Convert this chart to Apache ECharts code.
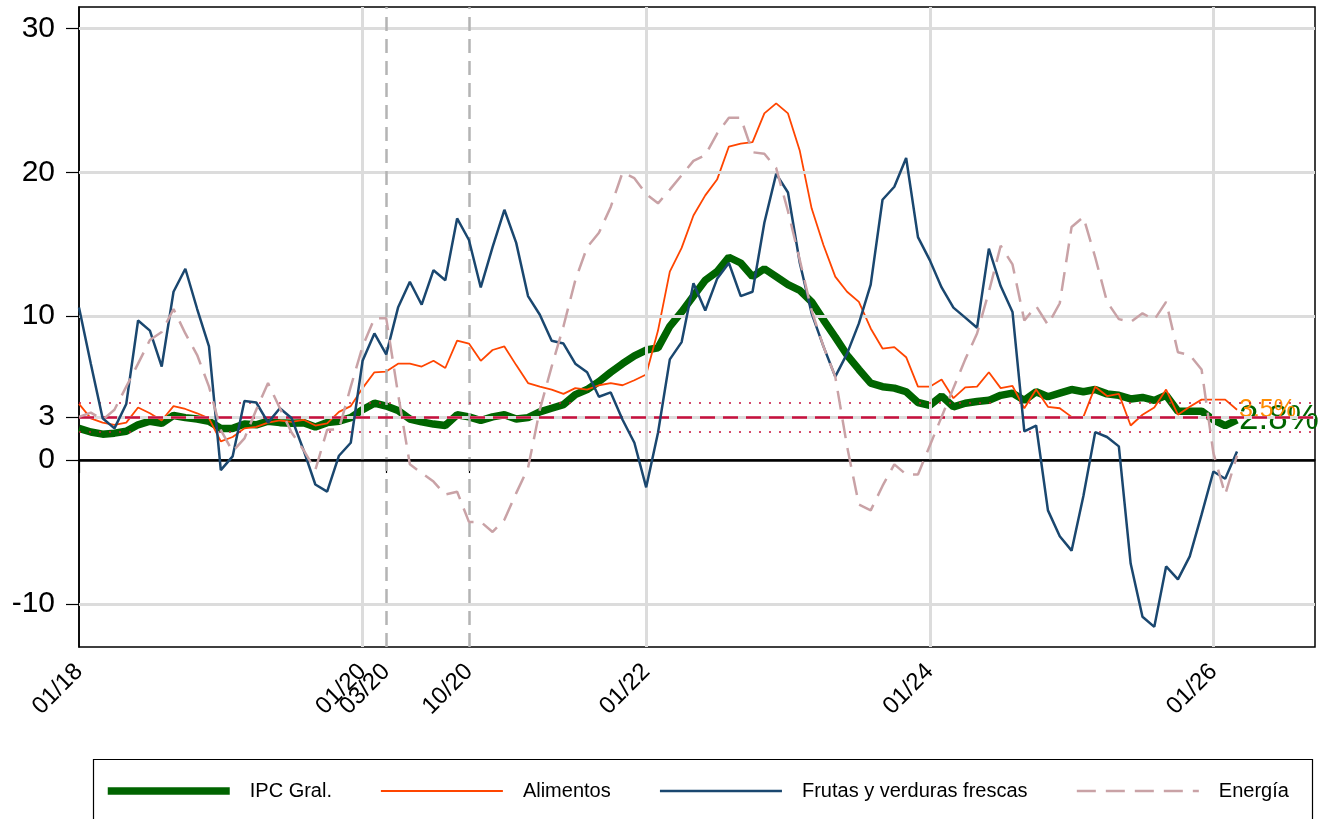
<!DOCTYPE html>
<html>
<head>
<meta charset="utf-8">
<script src="https://cdn.jsdelivr.net/npm/echarts@6/dist/echarts.min.js"></script>
<style>
html,body{margin:0;padding:0;background:#fff;}
#chart{width:1335px;height:819px;}
</style>
</head>
<body>
<div id="chart"></div>
<script>
// Monthly index: 0 = 01/2018 ... 98 = 03/2026
const ipc = [2.2,1.95,1.8,1.87,2.0,2.45,2.7,2.55,3.1,2.95,2.85,2.7,2.2,2.2,2.5,2.45,2.7,2.6,2.55,2.6,2.3,2.6,2.7,2.95,3.5,3.95,3.75,3.45,2.85,2.65,2.5,2.4,3.15,3.0,2.75,3.0,3.15,2.85,2.95,3.35,3.6,3.85,4.55,4.9,5.45,6.1,6.7,7.25,7.65,7.8,9.3,10.3,11.4,12.5,13.1,14.1,13.7,12.75,13.3,12.75,12.2,11.8,11.0,9.75,8.55,7.3,6.3,5.35,5.1,5.0,4.75,4.0,3.8,4.45,3.7,3.95,4.07,4.15,4.5,4.65,4.15,4.75,4.4,4.65,4.9,4.75,4.9,4.6,4.5,4.25,4.35,4.15,4.5,3.4,3.4,3.4,2.8,2.4,2.8];
const alimentos = [3.9,2.9,2.6,2.45,2.6,3.65,3.25,2.75,3.75,3.55,3.25,2.9,1.3,1.6,2.2,2.3,2.6,2.75,2.65,2.8,2.4,2.55,3.35,3.75,5.0,6.1,6.15,6.7,6.7,6.5,6.9,6.4,8.3,8.1,6.9,7.65,7.9,6.6,5.35,5.1,4.9,4.6,5.0,4.9,5.2,5.35,5.2,5.55,5.95,9.0,13.1,14.75,17.0,18.4,19.5,21.8,22.0,22.1,24.1,24.8,24.1,21.5,17.5,14.95,12.75,11.7,11.0,9.15,7.75,7.85,7.15,5.1,5.1,5.6,4.3,5.05,5.1,6.1,5.0,5.15,3.6,4.9,3.7,3.6,3.0,3.0,5.1,4.45,4.6,2.4,3.15,3.65,4.9,3.15,3.7,4.2,4.2,4.2,3.5];
const frutas = [10.6,6.7,2.9,2.2,3.9,9.7,9.0,6.5,11.7,13.3,10.5,7.9,-0.7,0.25,4.1,4.0,2.6,3.6,2.9,0.7,-1.7,-2.2,0.3,1.2,6.9,8.8,7.35,10.6,12.4,10.8,13.2,12.5,16.8,15.3,12.0,14.8,17.4,15.1,11.4,10.1,8.3,8.1,6.7,6.1,4.4,4.7,2.8,1.2,-1.9,1.9,7.0,8.2,12.3,10.4,12.6,13.7,11.4,11.7,16.5,19.9,18.6,13.7,10.2,7.9,5.8,7.4,9.5,12.2,18.1,19.0,21.0,15.5,13.9,12.0,10.6,9.9,9.2,14.7,12.1,10.3,2.0,2.4,-3.5,-5.3,-6.3,-2.5,1.94,1.6,0.95,-7.2,-10.9,-11.6,-7.4,-8.3,-6.7,-3.8,-0.8,-1.3,0.6];
const energia = [3.0,3.3,2.8,3.5,5.1,6.7,8.35,8.9,10.5,8.8,7.3,5.1,2.1,0.6,1.5,3.5,5.35,3.6,1.9,0.7,-0.7,2.1,2.15,5.1,7.9,9.85,9.85,4.6,-0.3,-0.9,-1.5,-2.4,-2.2,-4.3,-4.3,-5.0,-4.15,-2.3,-0.55,3.5,6.5,9.3,12.5,14.8,15.8,17.6,20.0,19.6,18.5,17.85,18.8,19.8,20.8,21.2,22.7,23.8,23.8,21.4,21.3,20.3,17.3,13.9,10.4,7.9,5.8,0.95,-3.1,-3.5,-1.8,-0.3,-1.0,-1.0,1.0,3.0,5.0,7.0,8.8,11.7,14.9,13.6,9.7,10.7,9.4,10.9,16.2,16.9,14.1,11.0,9.8,9.6,10.2,9.75,11.0,7.5,7.3,6.3,0.5,-2.4,0.3];

const xTickPos = [0, 24, 26, 33, 48, 72, 96];
const xTickLabels = ['01/18', '01/20', '03/20', '10/20', '01/22', '01/24', '01/26'];
const xGridPos = [24, 48, 72, 96];
const eventPos = [26, 33];
const yTickPos = [-10, 0, 3, 10, 20, 30];
const yGridPos = [-10, 3, 10, 20, 30];
const target = 3, bandLow = 2, bandHigh = 4;

const seriesNames = ['IPC Gral.', 'Alimentos', 'Frutas y verduras frescas', 'Energía'];

const toPairs = arr => arr.map((v, i) => [i, v]);
const FONT = 'Liberation Sans, Arial, Helvetica, sans-serif';

const chart = echarts.init(document.getElementById('chart'), null, {renderer: 'canvas'});

const refLines = [];
yGridPos.forEach(v => refLines.push({yAxis: v, lineStyle: {color: '#dcdcdc', width: 3, type: 'solid'}}));
xGridPos.forEach(v => refLines.push({xAxis: v, lineStyle: {color: '#dcdcdc', width: 3, type: 'solid'}}));
eventPos.forEach(v => refLines.push({xAxis: v, lineStyle: {color: '#b4b4b4', width: 2.5, type: [14, 8]}}));
refLines.push({yAxis: bandHigh, lineStyle: {color: '#c8103e', width: 1.5, type: [2, 8]}});
refLines.push({yAxis: bandLow, lineStyle: {color: '#c8103e', width: 1.5, type: [2, 8]}});
refLines.push({yAxis: 0, lineStyle: {color: '#000', width: 2.5, type: 'solid'}});
refLines.push({yAxis: target, lineStyle: {color: '#c8103e', width: 2.5, type: [15, 8]}});

const option = {
  animation: false,
  backgroundColor: '#fff',
  textStyle: {fontFamily: FONT},
  grid: {left: 79, right: 20, top: 7, bottom: 172, show: true, borderColor: '#000', borderWidth: 1.5, backgroundColor: 'transparent', containLabel: false},
  xAxis: {
    type: 'value', min: 0, max: 104.6,
    axisLine: {show: true, lineStyle: {color: '#000', width: 1.5}},
    axisTick: {show: true, length: 13, lineStyle: {color: '#000', width: 1.2}, customValues: xTickPos},
    axisLabel: {show: true, rotate: 45, margin: 21, fontSize: 24, color: '#000', fontFamily: FONT,
      customValues: xTickPos,
      formatter: v => { const i = xTickPos.indexOf(Math.round(v)); return i >= 0 ? xTickLabels[i] : ''; }},
    splitLine: {show: false}
  },
  yAxis: {
    type: 'value', min: -13, max: 31.5,
    axisLine: {show: true, lineStyle: {color: '#000', width: 1.5}},
    axisTick: {show: true, length: 13, lineStyle: {color: '#000', width: 1.2}, customValues: yTickPos},
    axisLabel: {show: true, margin: 24, fontSize: 30, color: '#000', fontFamily: FONT, customValues: yTickPos},
    splitLine: {show: false}
  },
  legend: {
    show: true, left: 104, top: 781, orient: 'horizontal', padding: 0,
    itemWidth: 122, itemHeight: 14, itemGap: 48,
    itemStyle: {opacity: 0, color: 'rgba(0,0,0,0)', borderWidth: 0},
    lineStyle: {width: 'inherit', type: 'inherit', color: 'inherit'},
    textStyle: {fontSize: 20, color: '#000', fontFamily: FONT, padding: [0, 0, 0, 15]},
    data: seriesNames
  },
  graphic: [{type: 'rect', left: 91, top: 757, shape: {width: 1219, height: 61}, style: {fill: 'none', stroke: '#000', lineWidth: 1.2}, silent: true, z: 0}],
  series: [
    {name: '_ref', type: 'line', data: [], silent: true, z: 1,
      markLine: {silent: true, symbol: 'none', label: {show: false}, animation: false, data: refLines}},
    {name: seriesNames[0], type: 'line', data: toPairs(ipc), showSymbol: false, symbol: 'none', z: 3,
      lineStyle: {color: '#006400', width: 7.5}, itemStyle: {color: '#006400'},
      endLabel: {show: true, distance: 2, color: '#006400', fontSize: 35, fontFamily: FONT, formatter: p => p.value[1].toFixed(1) + '%'}},
    {name: seriesNames[1], type: 'line', data: toPairs(alimentos), showSymbol: false, symbol: 'none', z: 4,
      lineStyle: {color: '#ff4500', width: 1.8}, itemStyle: {color: '#ff4500'},
      endLabel: {show: true, distance: 2, color: '#ff8c00', fontSize: 25, fontFamily: FONT, formatter: p => p.value[1].toFixed(1) + '%'}},
    {name: seriesNames[2], type: 'line', data: toPairs(frutas), showSymbol: false, symbol: 'none', z: 5,
      lineStyle: {color: '#1a476f', width: 2.5}, itemStyle: {color: '#1a476f'}},
    {name: seriesNames[3], type: 'line', data: toPairs(energia), showSymbol: false, symbol: 'none', z: 6,
      lineStyle: {color: '#c9a2a6', width: 2.5, type: [19, 10]}, itemStyle: {color: '#c9a2a6'}}
  ]
};
chart.setOption(option);
</script>
</body>
</html>
